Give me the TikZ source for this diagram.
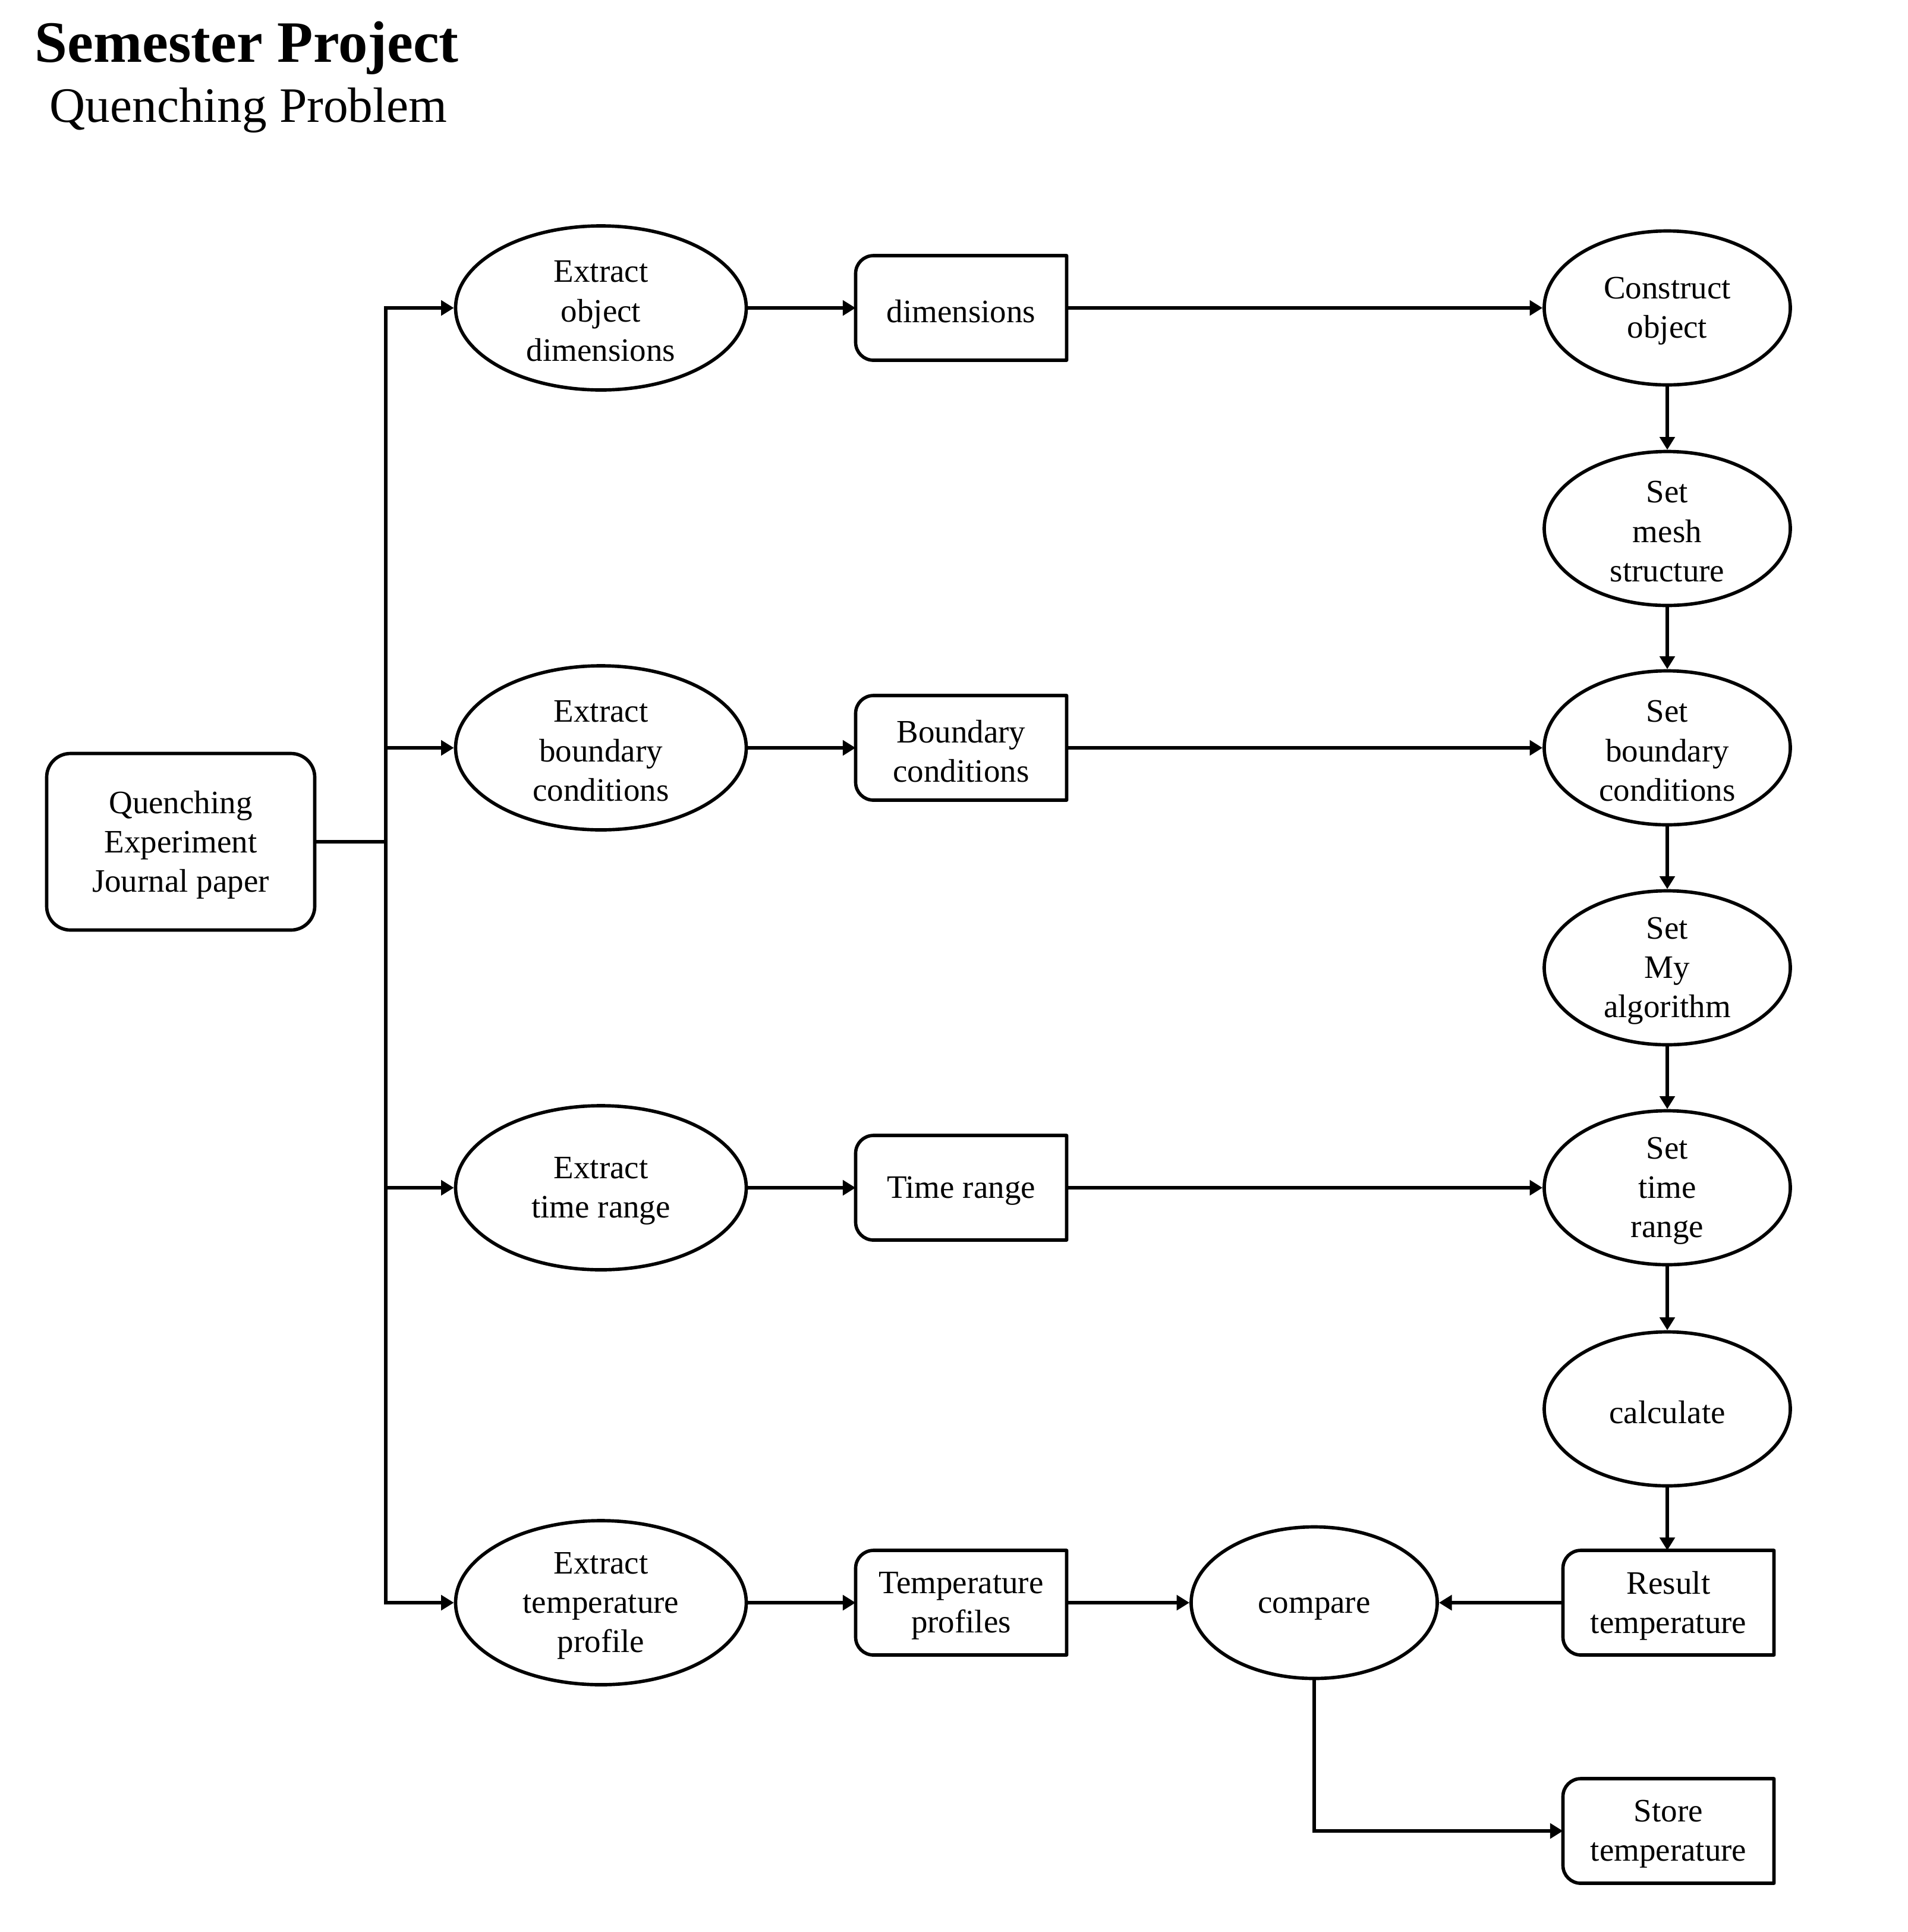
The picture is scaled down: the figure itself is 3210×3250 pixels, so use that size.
\documentclass[tikz,border=0pt]{standalone}
\usepackage{fontspec}
\setmainfont{Liberation Serif}
\usetikzlibrary{shapes.geometric,arrows.meta}
\tikzset{
  txt/.style={align=center, font=\fontsize{16.5}{19.9}\selectfont, inner sep=0pt, yshift=-1.6pt},
  procA/.style={ellipse, draw, line width=1.7pt, minimum width=146.7pt, minimum height=82.8pt, inner sep=0pt},
  procB/.style={ellipse, draw, line width=1.7pt, minimum width=124.2pt, minimum height=77.7pt, inner sep=0pt},
  databox/.style={rectangle, draw=none, minimum width=106.5pt, minimum height=52.8pt, inner sep=0pt, outer sep=0pt},
  startbox/.style={rectangle, draw, rounded corners=12pt, line width=1.7pt, minimum width=135.3pt, minimum height=89.1pt, inner sep=0pt},
  shapeline/.style={line width=1.7pt, line join=round},
  conn/.style={line width=1.8pt},
  arr/.style={line width=1.8pt, -{Triangle[length=6.5pt,width=7.5pt]}},
}
\newcommand\dboutline[1]{\draw[shapeline] (#1.north east) -- ([xshift=9pt]#1.north west) arc[start angle=90,end angle=180,radius=9pt] -- ([yshift=9pt]#1.south west) arc[start angle=180,end angle=270,radius=9pt] -- (#1.south east) -- cycle;}
\begin{document}
\begin{tikzpicture}[x=0.3pt,y=-0.3pt]
\useasboundingbox (0,0) rectangle (3210,3250);
% titles
\node[anchor=base west, inner sep=0pt, font=\fontsize{29.6}{36}\selectfont\bfseries] (title) at (58,104) {Semester Project};
\node[anchor=base west, inner sep=0pt, font=\fontsize{25}{30}\selectfont] (subtitle) at (83,205) {Quenching Problem};
% start
\node[startbox, label={[txt]center:Quenching\\Experiment\\Journal paper}] (q) at (304,1416) {};
% extract column
\node[procA, label={[txt]center:Extract\\object\\dimensions}] (e1) at (1011,518) {};
\node[procA, label={[txt]center:Extract\\boundary\\conditions}] (e2) at (1011,1258) {};
\node[procA, label={[txt]center:Extract\\time range}] (e3) at (1011,1998) {};
\node[procA, label={[txt]center:Extract\\temperature\\profile}] (e4) at (1011,2696) {};
% data boxes
\node[databox, label={[txt]center:dimensions}] (d1) at (1617,518) {};
\node[databox, label={[txt]center:Boundary\\conditions}] (d2) at (1617,1258) {};
\node[databox, label={[txt]center:Time range}] (d3) at (1617,1998) {};
\node[databox, label={[txt]center:Temperature\\profiles}] (d4) at (1617,2696) {};
\node[databox, label={[txt]center:Result\\temperature}] (res) at (2807,2696) {};
\node[databox, label={[txt]center:Store\\temperature}] (store) at (2807,3080) {};
\foreach \n in {d1,d2,d3,d4,res,store} {\dboutline{\n}}
% right column
\node[procB, label={[txt]center:Construct\\object}] (r1) at (2805,518) {};
\node[procB, label={[txt]center:Set\\mesh\\structure}] (r2) at (2805,889) {};
\node[procB, label={[txt]center:Set\\boundary\\conditions}] (r3) at (2805,1258) {};
\node[procB, label={[txt]center:Set\\My\\algorithm}] (r4) at (2805,1628) {};
\node[procB, label={[txt]center:Set\\time\\range}] (r5) at (2805,1998) {};
\node[procB, label={[txt]center:calculate}] (r6) at (2805,2370) {};
\node[procB, minimum height=76.5pt, label={[txt,yshift=-1.5pt]center:compare}] (cmp) at (2211,2696) {};
% trunk
\coordinate (tr) at (649,1416);
\draw[conn] (q.east) -- (tr);
\foreach \e in {e1,e2,e3,e4} {\draw[arr] (tr) |- (\e.west);}
% extract -> data
\draw[arr] (e1.east) -- (d1.west);
\draw[arr] (e2.east) -- (d2.west);
\draw[arr] (e3.east) -- (d3.west);
\draw[arr] (e4.east) -- (d4.west);
% data -> right column
\draw[arr] (d1.east) -- (r1.west);
\draw[arr] (d2.east) -- (r3.west);
\draw[arr] (d3.east) -- (r5.west);
\draw[arr] (d4.east) -- (cmp.west);
% vertical chain
\draw[arr] (r1.south) -- (r2.north);
\draw[arr] (r2.south) -- (r3.north);
\draw[arr] (r3.south) -- (r4.north);
\draw[arr] (r4.south) -- (r5.north);
\draw[arr] (r5.south) -- (r6.north);
\draw[arr] (r6.south) -- (r6.south |- res.north);
% result -> compare
\draw[arr] (res.west) -- (cmp.east);
% compare -> store
\draw[arr] (cmp.south) |- (store.west);
\end{tikzpicture}
\end{document}
